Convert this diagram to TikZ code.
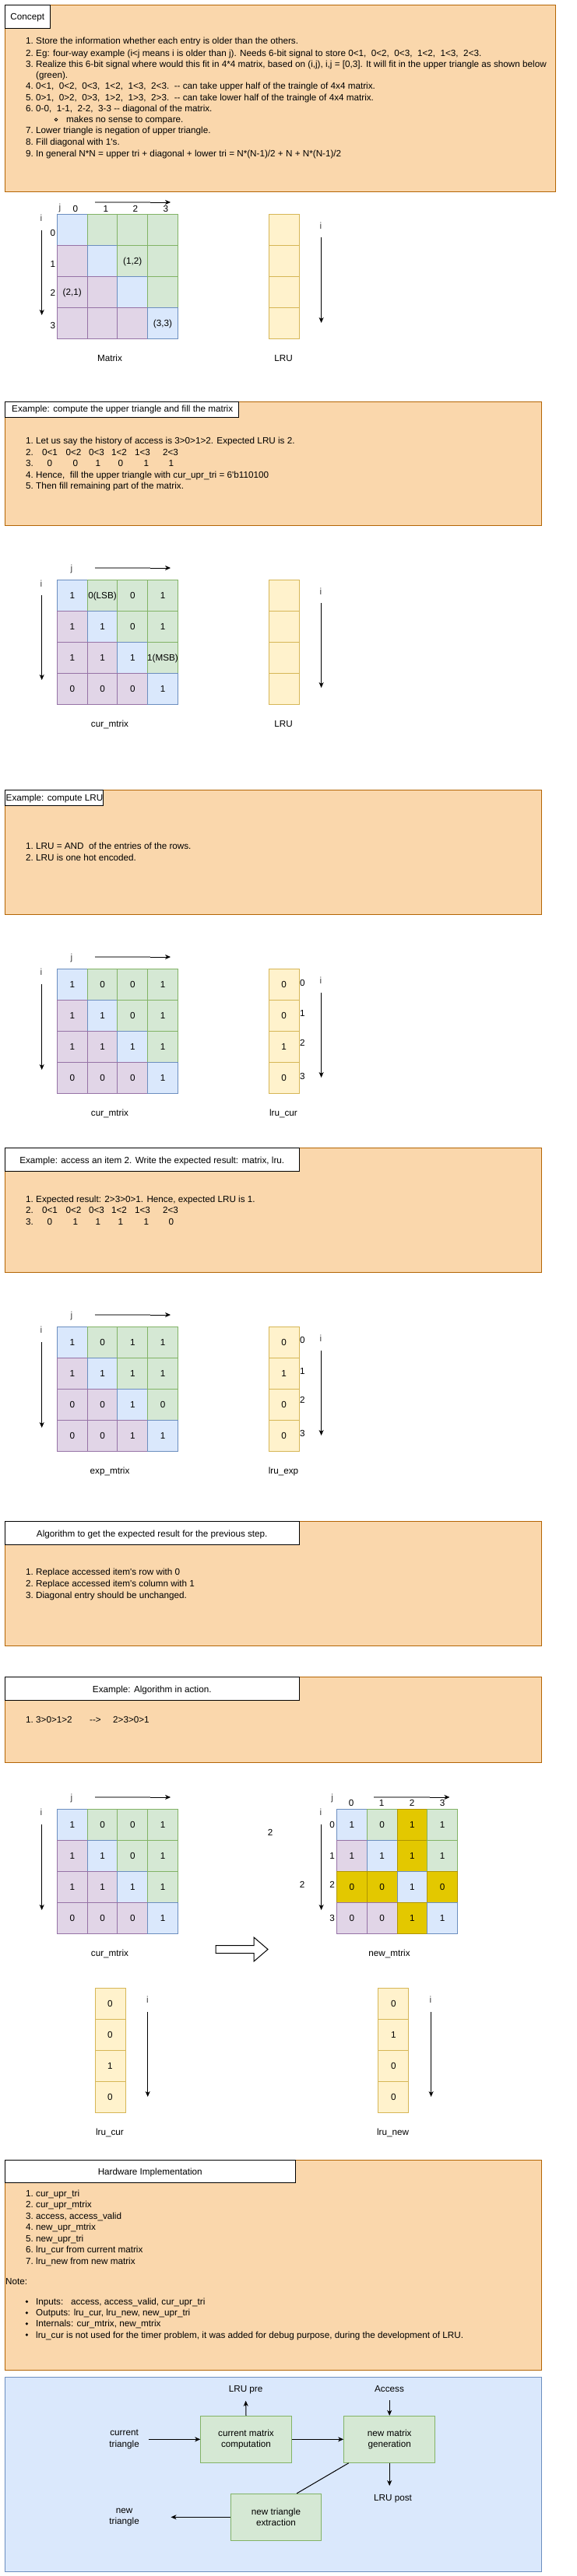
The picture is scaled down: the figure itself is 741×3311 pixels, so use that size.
\documentclass[tikz,border=0pt]{standalone}
\usepackage{fontspec}
\newfontfamily\hv{Liberation Sans}
\usetikzlibrary{arrows.meta,calc}
\definecolor{orF}{HTML}{FAD7AC}\definecolor{orD}{HTML}{B46504}
\definecolor{blueF}{HTML}{DAE8FC}\definecolor{blueD}{HTML}{6C8EBF}
\definecolor{greenF}{HTML}{D5E8D4}\definecolor{greenD}{HTML}{82B366}
\definecolor{purpF}{HTML}{E1D5E7}\definecolor{purpD}{HTML}{9673A6}
\definecolor{yelF}{HTML}{FFF2CC}\definecolor{yelD}{HTML}{D6B656}
\definecolor{hiF}{HTML}{E3C800}\definecolor{hiD}{HTML}{B09500}
\tikzset{
 base/.style={font=\hv\fontsize{11.7}{14.5}\selectfont},
 t/.style={base, anchor=base west, inner sep=0pt},
 tc/.style={base, anchor=base, inner sep=0pt},
 obox/.style={draw=orD, fill=orF, line width=1pt, anchor=north west, inner sep=0pt},
 bbox/.style={draw=blueD, fill=blueF, line width=1pt, anchor=north west, inner sep=0pt},
 tbox/.style={base, draw=black, fill=white, line width=1pt, anchor=north west, inner sep=0pt, text height=8.4pt, text depth=0pt},
 cell/.style={base, minimum width=38.75pt, minimum height=40pt, inner sep=0pt, line width=1pt, text height=8.4pt, text depth=0pt},
 lcell/.style={base, draw=yelD, fill=yelF, minimum width=39pt, minimum height=40pt, inner sep=0pt, line width=1pt, text height=8.4pt, text depth=0pt},
 arr/.style={line width=1pt, -{Stealth[length=7pt,width=6pt,inset=2pt]}},
 blk/.style={base, draw=greenD, fill=greenF, line width=1pt, minimum width=116.5pt, minimum height=60pt, align=center, inner sep=0pt},
 lbl/.style={base, align=center, inner sep=0pt},
 ij/.style={tc, text=black!75},
}
\newcommand{\nm}[1]{\makebox[13pt][l]{#1}}
\newcommand{\dhy}{-\kern0pt-}
\newcommand{\Ltxt}[4]{\node[t] (#1) at (#2,#3+4.2) {#4};}
\newcommand{\Ctxt}[4]{\node[tc] (#1) at (#2,#3+4.2) {#4};}
\newcommand{\IJlab}[4]{\node[ij] (#1) at (#2,#3+4.2) {#4};}
\def\hmark{h}
\newcommand{\mtx}[4]{%
 \foreach \val/\tp [count=\idx from 0] in {#4} {%
   \pgfmathtruncatemacro{\rowi}{floor(\idx/4)}%
   \pgfmathtruncatemacro{\colj}{\idx-4*\rowi}%
   \ifx\tp\hmark \def\cf{hiF}\def\cd{hiD}%
   \else\ifnum\rowi=\colj \def\cf{blueF}\def\cd{blueD}%
   \else\ifnum\rowi<\colj \def\cf{greenF}\def\cd{greenD}%
   \else \def\cf{purpF}\def\cd{purpD}\fi\fi\fi
   \node[cell, fill=\cf, draw=\cd] (#1-\rowi-\colj) at ({#2+\colj*38.75+19.375},{#3+\rowi*40+20}) {\val};
 }}
\newcommand{\lru}[4]{%
 \foreach \val [count=\idx from 0] in {#4} {%
   \node[lcell] (#1-\idx) at ({#2+19.5},{#3+\idx*40+20}) {\val};
 }}
\newcommand{\jarr}[3]{%
 \coordinate (#1a) at (#2,#3); \coordinate (#1b) at (#2+71.5,#3); \coordinate (#1c) at (#2+97.5,#3);
 \draw[line width=1.5pt, black!45] (#1a) -- (#1b);
 \draw[arr] (#1b) -- (#1c);}
\newcommand{\iarr}[4]{%
 \coordinate (#1a) at (#2,#3); \coordinate (#1b) at (#2,#4); \draw[arr] (#1a) -- (#1b);}
\begin{document}
\begin{tikzpicture}[x=1pt,y=-1pt]
\fill[white] (0,0) rectangle (741,3311);
\useasboundingbox (0,0) rectangle (741,3311);

%% ---------------- Section 1: Concept
\node[obox, minimum width=707.5pt, minimum height=240pt] (s1) at (5.5,5.7) {};
\node[tbox, minimum width=58.5pt, minimum height=30pt] (s1t) at (5.5,5.7) {Concept};
\Ltxt{c1}{33}{52.7}{\nm{1.}Store the information whether each entry is older than the others.}
\Ltxt{c2}{33}{68}{\nm{2.}Eg: four-way example (i<j means i is older than j). Needs 6-bit signal to store 0<1,\ \ 0<2,\ \ 0<3,\ \ 1<2,\ \ 1<3,\ \ 2<3.}
\Ltxt{c3}{33}{82}{\nm{3.}Realize this 6-bit signal where would this fit in 4*4 matrix, based on (i,j), i,j = [0,3]. It will fit in the upper triangle as shown below}
\Ltxt{c3b}{46}{96.7}{(green).}
\Ltxt{c4}{33}{110.7}{\nm{4.}0<1,\ \ 0<2,\ \ 0<3,\ \ 1<2,\ \ 1<3,\ \ 2<3.\ \ \dhy\ can take upper half of the traingle of 4x4 matrix.}
\Ltxt{c5}{33}{125}{\nm{5.}0>1,\ \ 0>2,\ \ 0>3,\ \ 1>2,\ \ 1>3,\ \ 2>3.\ \ \dhy\ can take lower half of the traingle of 4x4 matrix.}
\Ltxt{c6}{33}{139.3}{\nm{6.}0-0,\ \ 1-1,\ \ 2-2,\ \ 3-3 \dhy\ diagonal of the matrix.}
\draw[line width=0.8pt] (72,153.7) circle (1.8);
\Ltxt{c6b}{85}{153.7}{makes no sense to compare.}
\Ltxt{c7}{33}{167.7}{\nm{7.}Lower triangle is negation of upper triangle.}
\Ltxt{c8}{33}{182.7}{\nm{8.}Fill diagonal with 1's.}
\Ltxt{c9}{33}{197}{\nm{9.}In general N*N = upper tri + diagonal + lower tri = N*(N-1)/2 + N + N*(N-1)/2}

% Matrix 1
\jarr{j1}{121.6}{260}
\IJlab{j1l}{77}{266.7}{j}
\foreach \x/\s [count=\n] in {96.8/0,135.8/1,174/2,213/3} {\Ctxt{m1c\n}{\x}{268}{\s}}
\IJlab{i1l}{53}{280}{i}
\iarr{i1}{53.7}{296}{405}
\foreach \y/\s [count=\n] in {299/0,339/1,376.7/2,418/3} {\Ctxt{m1r\n}{68}{\y}{\s}}
\mtx{m1}{73.4}{275}{\null,\null,\null,\null,\null,\null,{(1,2)},\null,{(2,1)},\null,\null,\null,\null,\null,\null,{(3,3)}}
\lru{l1}{345}{275}{\null,\null,\null,\null}
\IJlab{li1l}{412}{290}{i}
\iarr{li1}{412.6}{305}{415}
\Ctxt{m1lab}{141}{460}{Matrix}
\Ctxt{l1lab}{364}{460}{LRU}

%% ---------------- Section 2
\node[obox, minimum width=689.5pt, minimum height=159.6pt] (s2) at (5.5,515.7) {};
\node[tbox, minimum width=300.9pt, minimum height=20pt] (s2t) at (5.5,515.7) {};
\Ltxt{s2tt}{15}{525}{Example: compute the upper triangle and fill the matrix}
\Ltxt{e2a}{33}{566.7}{\nm{1.}Let us say the history of access is 3>0>1>2. Expected LRU is 2.}
\Ltxt{e2b}{33}{581}{2.}
\foreach \x/\s [count=\n] in {64/0<1,94.5/0<2,124/0<3,153/1<2,183/1<3,219/2<3} {\Ctxt{e2b\n}{\x}{581}{\s}}
\Ltxt{e2c}{33}{595}{3.}
\foreach \x/\s [count=\n] in {64/0,97/0,126/1,155/0,188/1,220/1} {\Ctxt{e2c\n}{\x}{595}{\s}}
\Ltxt{e2d}{33}{610}{\nm{4.}Hence,\ \ fill the upper triangle with cur\_upr\_tri = 6'b110100}
\Ltxt{e2e}{33}{624}{\nm{5.}Then fill remaining part of the matrix.}

% Matrix 2
\IJlab{j2l}{92}{730}{j}
\jarr{j2}{121.6}{730}
\IJlab{i2l}{53}{750}{i}
\iarr{i2}{53.7}{765}{874}
\mtx{m2}{73.4}{745.3}{1,0(LSB),0,1,1,1,0,1,1,1,1,1(MSB),0,0,0,1}
\lru{l2}{345}{745.3}{\null,\null,\null,\null}
\IJlab{li2l}{412}{760}{i}
\iarr{li2}{412.6}{775}{884}
\Ctxt{m2lab}{141}{930}{cur\_mtrix}
\Ctxt{l2lab}{364}{930}{LRU}

%% ---------------- Section 3
\node[obox, minimum width=689.5pt, minimum height=160pt] (s3) at (5.5,1015.3) {};
\node[tbox, minimum width=126.2pt, minimum height=20pt] (s3t) at (5.5,1015.3) {};
\Ltxt{s3tt}{7.5}{1025}{Example: compute LRU}
\Ltxt{e3a}{33}{1087.7}{\nm{1.}LRU = AND\ \ of the entries of the rows.}
\Ltxt{e3b}{33}{1102.7}{\nm{2.}LRU is one hot encoded.}

% Matrix 3
\IJlab{j3l}{92}{1230}{j}
\jarr{j3}{121.6}{1230}
\IJlab{i3l}{53}{1249}{i}
\iarr{i3}{53.7}{1265.3}{1375}
\mtx{m3}{73.4}{1245.3}{1,0,0,1,1,1,0,1,1,1,1,1,0,0,0,1}
\lru{l3}{345}{1245.3}{0,0,1,0}
\foreach \y/\s [count=\n] in {1263/0,1302.7/1,1340/2,1383/3} {\Ltxt{l3r\n}{385}{\y}{\s}}
\IJlab{li3l}{412}{1260}{i}
\iarr{li3}{412.6}{1275.7}{1385}
\Ctxt{m3lab}{141}{1430}{cur\_mtrix}
\Ctxt{l3lab}{364}{1430}{lru\_cur}

%% ---------------- Section 4
\node[obox, minimum width=689.5pt, minimum height=160pt] (s4) at (5.5,1475.3) {};
\node[tbox, minimum width=378.5pt, minimum height=30pt] (s4t) at (5.5,1475.3) {Example: access an item 2. Write the expected result: matrix, lru.};
\Ltxt{e4a}{33}{1541}{\nm{1.}Expected result: 2>3>0>1. Hence, expected LRU is 1.}
\Ltxt{e4b}{33}{1555}{2.}
\foreach \x/\s [count=\n] in {64/0<1,94.5/0<2,124/0<3,153/1<2,183/1<3,219/2<3} {\Ctxt{e4b\n}{\x}{1555}{\s}}
\Ltxt{e4c}{33}{1570}{3.}
\foreach \x/\s [count=\n] in {64/0,97/1,126/1,155/1,188/1,220/0} {\Ctxt{e4c\n}{\x}{1570}{\s}}

% Matrix 4
\IJlab{j4l}{92}{1690}{j}
\jarr{j4}{121.6}{1690}
\IJlab{i4l}{53}{1709}{i}
\iarr{i4}{53.7}{1725.3}{1835}
\mtx{m4}{73.4}{1705.3}{1,0,1,1,1,1,1,1,0,0,1,0,0,0,1,1}
\lru{l4}{345}{1705.3}{0,1,0,0}
\foreach \y/\s [count=\n] in {1722.7/0,1762.7/1,1799.3/2,1842.7/3} {\Ltxt{l4r\n}{385}{\y}{\s}}
\IJlab{li4l}{412}{1720}{i}
\iarr{li4}{412.6}{1735.7}{1845}
\Ctxt{m4lab}{141}{1890}{exp\_mtrix}
\Ctxt{l4lab}{364}{1890}{lru\_exp}

%% ---------------- Section 5
\node[obox, minimum width=689.5pt, minimum height=160pt] (s5) at (5.5,1955.3) {};
\node[tbox, minimum width=378.5pt, minimum height=30pt] (s5t) at (5.5,1955.3) {Algorithm to get the expected result for the previous step.};
\Ltxt{e5a}{33}{2020.7}{\nm{1.}Replace accessed item's row with 0}
\Ltxt{e5b}{33}{2035}{\nm{2.}Replace accessed item's column with 1}
\Ltxt{e5c}{33}{2050}{\nm{3.}Diagonal entry should be unchanged.}

%% ---------------- Section 6
\node[obox, minimum width=689.5pt, minimum height=110pt] (s6) at (5.5,2155.3) {};
\node[tbox, minimum width=378.5pt, minimum height=30pt] (s6t) at (5.5,2155.3) {Example: Algorithm in action.};
\Ltxt{e6a}{33}{2210}{\nm{1.}3>0>1>2}
\Ltxt{e6b}{115}{2210}{\dhy>}
\Ltxt{e6c}{145}{2210}{2>3>0>1}

% Matrix 5 (cur)
\IJlab{j5l}{92}{2310}{j}
\jarr{j5}{121.6}{2310}
\IJlab{i5l}{53}{2329}{i}
\iarr{i5}{53.7}{2345.3}{2455}
\mtx{m5}{73.4}{2325.3}{1,0,0,1,1,1,0,1,1,1,1,1,0,0,0,1}
\Ctxt{m5lab}{141}{2510}{cur\_mtrix}

% big hollow arrow
\draw[line width=1pt, fill=white] (277,2500.5) -- (326,2500.5) -- (326,2490) -- (344,2505.5) -- (326,2521) -- (326,2510.5) -- (277,2510.5) -- cycle;

\Ctxt{two1}{347}{2355}{2}
\Ctxt{two2}{388}{2422.7}{2}

% Matrix 6 (new)
\IJlab{j6l}{426.6}{2310}{j}
\jarr{j6}{480}{2310}
\foreach \x/\s [count=\n] in {451/0,490/1,529/2,568/3} {\Ctxt{m6c\n}{\x}{2317.7}{\s}}
\IJlab{i6l}{412}{2329}{i}
\iarr{i6}{412.6}{2345}{2455}
\foreach \y/\s [count=\n] in {2345/0,2385/1,2422.7/2,2465/3} {\Ctxt{m6r\n}{426.6}{\y}{\s}}
\mtx{m6}{432.6}{2325.3}{1,0,1/h,1,1,1,1/h,1,0/h,0/h,1,0/h,0,0,1/h,1}
\Ctxt{m6lab}{500}{2510}{new\_mtrix}

% LRU vectors
\lru{l5}{122}{2555.3}{0,0,1,0}
\IJlab{li5l}{189.4}{2570}{i}
\iarr{li5}{189.7}{2586}{2695}
\Ctxt{l5lab}{141}{2740}{lru\_cur}
\lru{l6}{485.8}{2555.3}{0,1,0,0}
\IJlab{li6l}{553}{2570}{i}
\iarr{li6}{553.6}{2586}{2695}
\Ctxt{l6lab}{504.6}{2740}{lru\_new}

%% ---------------- Section 7
\node[obox, minimum width=689.5pt, minimum height=270pt] (s7) at (5.5,2775.7) {};
\node[tbox, minimum width=373.5pt, minimum height=29.6pt] (s7t) at (5.5,2775.7) {Hardware Implementation};
\Ltxt{h1}{33}{2819}{\nm{1.}cur\_upr\_tri}
\Ltxt{h2}{33}{2833.7}{\nm{2.}cur\_upr\_mtrix}
\Ltxt{h3}{33}{2848}{\nm{3.}access, access\_valid}
\Ltxt{h4}{33}{2862}{\nm{4.}new\_upr\_mtrix}
\Ltxt{h5}{33}{2877}{\nm{5.}new\_upr\_tri}
\Ltxt{h6}{33}{2891}{\nm{6.}lru\_cur from current matrix}
\Ltxt{h7}{33}{2906}{\nm{7.}lru\_new from new matrix}
\Ltxt{hn}{7}{2932}{Note:}
\foreach \y in {2958.3,2972.7,2986.7,3001} {\fill (34.4,\y) circle (1.8);}
\Ltxt{hb1}{46}{2958.3}{Inputs:\ \ \ access, access\_valid, cur\_upr\_tri}
\Ltxt{hb2}{46}{2972.7}{Outputs: lru\_cur, lru\_new, new\_upr\_tri}
\Ltxt{hb3}{46}{2986.7}{Internals: cur\_mtrix, new\_mtrix}
\Ltxt{hb4}{46}{3001}{lru\_cur is not used for the timer problem, it was added for debug purpose, during the development of LRU.}

%% ---------------- Section 8: block diagram
\node[bbox, minimum width=689.5pt, minimum height=250pt] (s8) at (5.5,3055.3) {};
\node[blk] (cmc) at (316,3135.3) {current matrix\\computation};
\node[blk, minimum width=117pt] (nmg) at (500.2,3135.3) {new matrix\\generation};
\node[blk] (nte) at (354.5,3235.3) {new triangle\\extraction};
\node[lbl, inner xsep=11.6pt] (ct) at (159.6,3135.3) {current\\triangle};
\node[lbl, inner xsep=40.5pt] (nt) at (159.6,3235.3) {new\\triangle};
\Ctxt{lpre}{315.6}{3070}{LRU pre}
\Ctxt{acc}{500}{3070}{Access}
\Ctxt{lpost}{504.6}{3210}{LRU post}
\coordinate (lpreA) at (315.6,3085.7);
\coordinate (accA) at (500.2,3085);
\coordinate (lpostA) at (500.2,3195);
\draw[arr] (ct.east) -- (cmc.west);
\draw[arr] (cmc.east) -- (nmg.west);
\draw[arr] (cmc.north) -- (lpreA);
\draw[arr] (accA) -- (nmg.north);
\draw[arr] (nmg.south) -- (lpostA);
\draw[line width=1pt] ([xshift=6.5pt]nmg.south west) -- ([xshift=-32.1pt]nte.north east);
\draw[arr] (nte.west) -- (nt.east);
\end{tikzpicture}
\end{document}
